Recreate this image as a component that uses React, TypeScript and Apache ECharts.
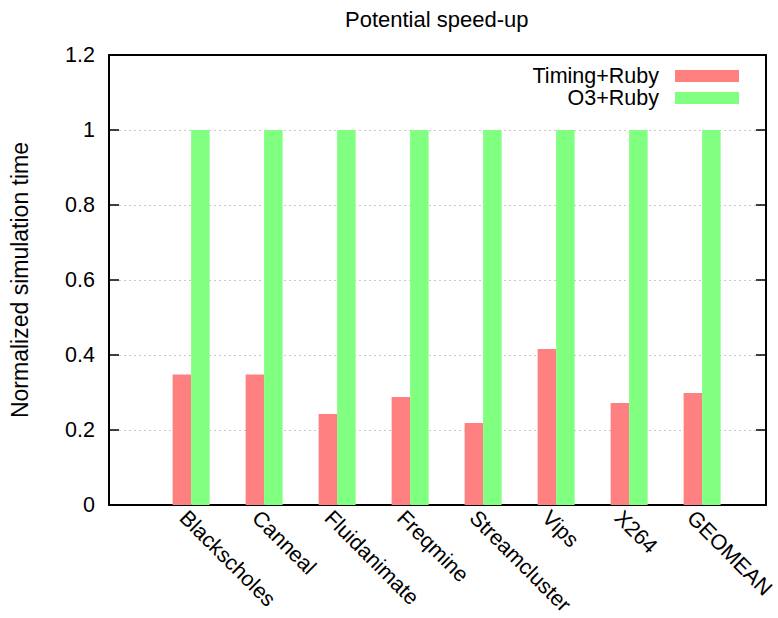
import React, { useEffect, useRef } from "react";
import * as echarts from "echarts";

// Benchmarks on the x axis
const categories = [
  "Blackscholes",
  "Canneal",
  "Fluidanimate",
  "Freqmine",
  "Streamcluster",
  "Vips",
  "X264",
  "GEOMEAN",
];

// Normalized simulation time per configuration
const timingRuby = [0.348, 0.348, 0.243, 0.288, 0.219, 0.416, 0.272, 0.299];
const o3Ruby = [1, 1, 1, 1, 1, 1, 1, 1];

// Y tick labels, one per 0.2 step
const yTickLabels = ["0", "0.2", "0.4", "0.6", "0.8", "1", "1.2"];

const FONT = "'Liberation Sans', Arial, Helvetica, sans-serif";
const BLACK = "#000";

export default function App() {
  const ref = useRef<HTMLDivElement>(null);

  useEffect(() => {
    if (!ref.current) return;
    const chart = echarts.init(ref.current, undefined, { renderer: "svg" });

    const frameLine = { show: true, onZero: false, lineStyle: { color: BLACK, width: 2 } };
    const innerTick = { show: true, inside: true, length: 10, lineStyle: { color: BLACK, width: 1.5 } };
    // x range leaves an empty slot before the first cluster
    const xMin = -1.125;
    const xMax = 7.875;

    chart.setOption({
      animation: false,
      backgroundColor: "#fff",
      textStyle: { fontFamily: FONT },
      title: {
        text: "Potential speed-up",
        left: 345,
        top: 8,
        padding: 0,
        textStyle: { fontSize: 22, fontWeight: "normal", color: BLACK, fontFamily: FONT },
      },
      legend: {
        orient: "vertical",
        right: 39,
        top: 65,
        padding: 0,
        itemGap: 0,
        align: "right",
        icon: "rect",
        itemWidth: 64,
        itemHeight: 12,
        selectedMode: false,
        textStyle: {
          fontSize: 21.5,
          color: BLACK,
          fontFamily: FONT,
          lineHeight: 21.5,
          padding: [0, 11, 0, 0],
        },
        data: ["Timing+Ruby", "O3+Ruby"],
      },
      grid: [
        { left: 109, top: 55, width: 657, height: 450 },
        // label strip: rotated labels start just left of each cluster centre
        { left: 147, top: 55, width: 584, height: 450 },
      ],
      xAxis: [
        {
          type: "value",
          gridIndex: 0,
          min: xMin,
          max: xMax,
          axisLine: frameLine,
          axisTick: { show: false },
          axisLabel: { show: false },
          splitLine: { show: false },
        },
        {
          type: "value",
          gridIndex: 0,
          position: "top",
          min: xMin,
          max: xMax,
          axisLine: frameLine,
          axisTick: { show: false },
          axisLabel: { show: false },
          splitLine: { show: false },
        },
        {
          type: "category",
          gridIndex: 1,
          data: categories,
          axisLine: { show: false },
          axisTick: { show: false },
          splitLine: { show: false },
          axisLabel: {
            interval: 0,
            rotate: -45,
            margin: 17,
            fontSize: 21.5,
            color: BLACK,
            fontFamily: FONT,
          },
        },
      ],
      yAxis: [
        {
          type: "value",
          gridIndex: 0,
          min: 0,
          max: 1.2,
          interval: 0.2,
          name: "Normalized simulation time",
          nameLocation: "middle",
          nameGap: 78,
          nameTextStyle: { fontSize: 23, color: BLACK, fontFamily: FONT },
          axisLine: frameLine,
          axisTick: innerTick,
          axisLabel: {
            margin: 14,
            fontSize: 21.5,
            color: BLACK,
            fontFamily: FONT,
            formatter: (v: number) => yTickLabels[Math.round(v / 0.2)] ?? String(v),
          },
          splitLine: {
            show: true,
            lineStyle: { color: "#c8c8c8", type: [2, 3], width: 1 },
          },
        },
        {
          type: "value",
          gridIndex: 0,
          position: "right",
          min: 0,
          max: 1.2,
          interval: 0.2,
          axisLine: frameLine,
          axisTick: innerTick,
          axisLabel: { show: false },
          splitLine: { show: false },
        },
        {
          type: "value",
          gridIndex: 1,
          min: 0,
          max: 1.2,
          show: false,
        },
      ],
      series: [
        {
          name: "Timing+Ruby",
          type: "bar",
          xAxisIndex: 0,
          yAxisIndex: 0,
          barWidth: 18.5,
          barGap: "0%",
          itemStyle: { color: "#ff8080" },
          data: timingRuby.map((v, i) => [i, v]),
        },
        {
          name: "O3+Ruby",
          type: "bar",
          xAxisIndex: 0,
          yAxisIndex: 0,
          barWidth: 18.5,
          barGap: "0%",
          itemStyle: { color: "#80ff80" },
          data: o3Ruby.map((v, i) => [i, v]),
        },
      ],
    });

    return () => chart.dispose();
  }, []);

  return (
    <div
      ref={ref}
      style={{ position: "absolute", left: 0, top: 0, width: 778, height: 618 }}
    />
  );
}
